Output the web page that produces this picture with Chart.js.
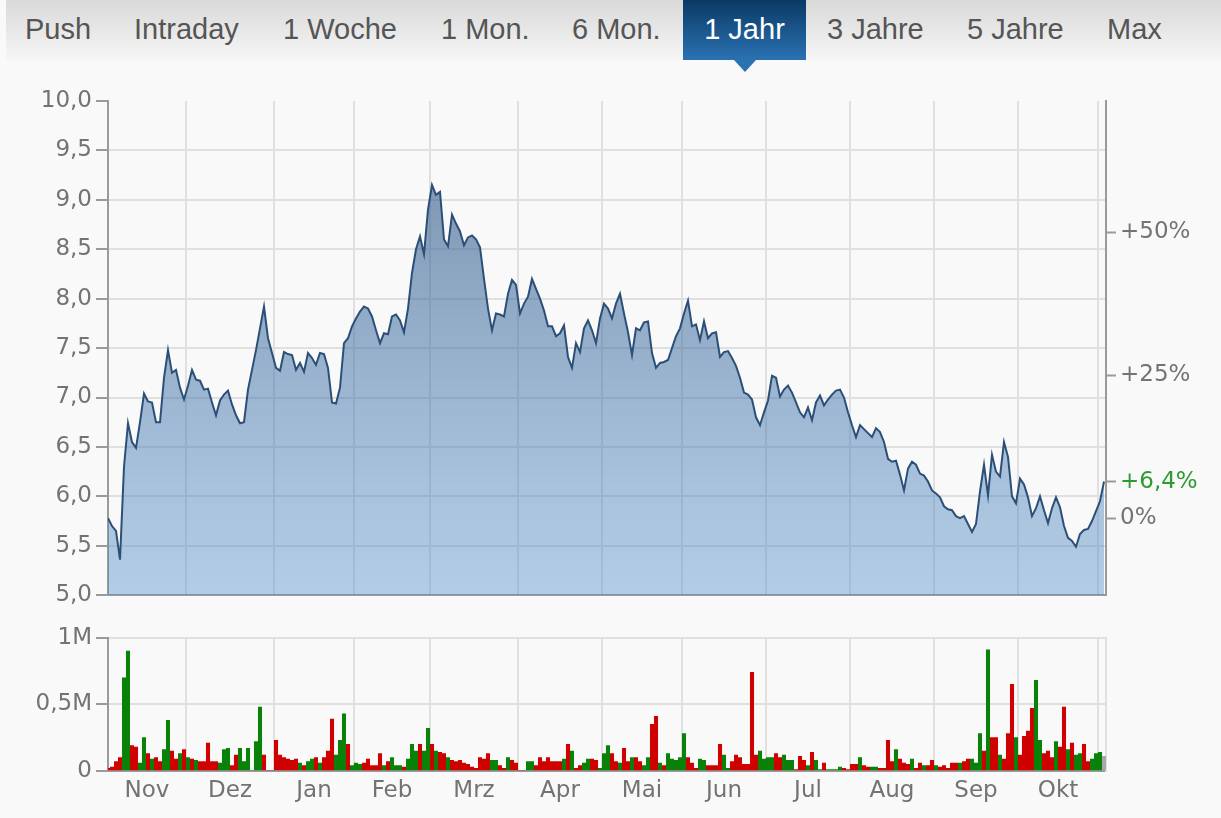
<!DOCTYPE html>
<html lang="de">
<head>
<meta charset="utf-8">
<title>1 Jahr</title>
<script src="https://cdn.jsdelivr.net/npm/chart.js@4.4.1/dist/chart.umd.min.js"></script>
<style>
  html, body { margin: 0; padding: 0; background: #f9f9f9; }
  body { width: 1221px; height: 818px; position: relative; overflow: hidden;
         font-family: "Liberation Sans", Arial, sans-serif; }
  #tabs { position: absolute; left: 6px; top: 0; width: 1215px; height: 60px;
          background: linear-gradient(#d9d9d9, #f6f6f6); }
  .tab { position: absolute; top: 0; height: 60px; line-height: 58px; font-size: 29px;
         color: #555; white-space: nowrap; }
  .tab.active { background: linear-gradient(#0b3965, #2b72b2); color: #fff; text-align: center; }
  .tab.active:after { content: ''; position: absolute; left: 50%; top: 60px; margin-left: -11px;
         border-left: 11px solid transparent; border-right: 11px solid transparent;
         border-top: 12px solid #2b72b2; }
  canvas { position: absolute; left: 0; }
</style>
</head>
<body>
<div id="tabs"></div>
<div class="tab" style="left:25px">Push</div>
<div class="tab" style="left:134px">Intraday</div>
<div class="tab" style="left:283px">1 Woche</div>
<div class="tab" style="left:441px">1 Mon.</div>
<div class="tab" style="left:572px">6 Mon.</div>
<div class="tab active" style="left:683px;width:123px">1 Jahr</div>
<div class="tab" style="left:827px">3 Jahre</div>
<div class="tab" style="left:967px">5 Jahre</div>
<div class="tab" style="left:1107px">Max</div>

<canvas id="priceChart" width="1221" height="532" style="top:81px"></canvas>
<canvas id="volumeChart" width="1221" height="198" style="top:620px"></canvas>

<script>
// ============================================================================
// DATA (one value per trading day, index 0 = first day of the year window)
// ============================================================================

const priceValues = [
  5.78, 5.70, 5.65, 5.36, 6.30, 6.74, 6.55, 6.49, 6.75, 7.04,
  6.96, 6.95, 6.75, 6.75, 7.20, 7.48, 7.25, 7.28, 7.10, 6.98,
  7.12, 7.28, 7.18, 7.17, 7.08, 7.09, 6.95, 6.82, 6.97, 7.03,
  7.07, 6.93, 6.82, 6.74, 6.75, 7.08, 7.28, 7.48, 7.70, 7.92,
  7.60, 7.45, 7.30, 7.27, 7.46, 7.44, 7.43, 7.28, 7.35, 7.26,
  7.45, 7.40, 7.33, 7.45, 7.44, 7.30, 6.95, 6.94, 7.10, 7.55,
  7.60, 7.72, 7.80, 7.87, 7.92, 7.90, 7.82, 7.68, 7.55, 7.65,
  7.64, 7.82, 7.84, 7.78, 7.66, 7.90, 8.26, 8.50, 8.63, 8.45,
  8.90, 9.15, 9.05, 9.08, 8.60, 8.53, 8.85, 8.76, 8.68, 8.54,
  8.62, 8.64, 8.60, 8.52, 8.20, 7.90, 7.68, 7.85, 7.84, 7.82,
  8.05, 8.19, 8.14, 7.85, 7.95, 8.02, 8.20, 8.10, 8.00, 7.88,
  7.72, 7.72, 7.62, 7.65, 7.73, 7.41, 7.30, 7.55, 7.46, 7.70,
  7.78, 7.68, 7.55, 7.80, 7.95, 7.90, 7.80, 7.95, 8.05, 7.85,
  7.66, 7.43, 7.70, 7.68, 7.76, 7.77, 7.45, 7.30, 7.35, 7.36,
  7.38, 7.50, 7.62, 7.70, 7.85, 7.98, 7.72, 7.74, 7.58, 7.77,
  7.60, 7.65, 7.66, 7.41, 7.46, 7.47, 7.40, 7.32, 7.20, 7.05,
  7.03, 6.98, 6.80, 6.72, 6.85, 6.97, 7.22, 7.20, 7.01, 7.08,
  7.12, 7.05, 6.95, 6.85, 6.80, 6.90, 6.77, 6.95, 7.02, 6.92,
  6.98, 7.03, 7.07, 7.08, 7.00, 6.85, 6.72, 6.60, 6.72, 6.68,
  6.64, 6.60, 6.69, 6.65, 6.55, 6.38, 6.35, 6.36, 6.22, 6.06,
  6.28, 6.35, 6.32, 6.23, 6.21, 6.15, 6.06, 6.03, 5.99, 5.90,
  5.87, 5.86, 5.80, 5.78, 5.80, 5.72, 5.64, 5.72, 6.05, 6.32,
  6.01, 6.42, 6.25, 6.20, 6.55, 6.40, 6.00, 5.93, 6.18, 6.12,
  5.99, 5.80, 5.88, 6.00, 5.86, 5.73, 5.88, 5.99, 5.89, 5.70,
  5.58, 5.55, 5.49, 5.62, 5.66, 5.67, 5.75, 5.85, 5.95, 6.15
];

// Volume in millions of shares
const volumeValues = [
  0.02, 0.03, 0.07, 0.10, 0.70, 0.90, 0.19, 0.18, 0.06, 0.25,
  0.13, 0.09, 0.10, 0.07, 0.16, 0.38, 0.15, 0.09, 0.13, 0.16,
  0.10, 0.09, 0.08, 0.07, 0.07, 0.21, 0.07, 0.07, 0.06, 0.16,
  0.17, 0.04, 0.12, 0.17, 0.07, 0.17, 0.00, 0.22, 0.48, 0.12,
  0.00, 0.00, 0.23, 0.12, 0.10, 0.09, 0.08, 0.09, 0.06, 0.04,
  0.07, 0.09, 0.10, 0.06, 0.10, 0.15, 0.39, 0.12, 0.23, 0.43,
  0.20, 0.04, 0.06, 0.05, 0.06, 0.09, 0.04, 0.04, 0.13, 0.04,
  0.07, 0.10, 0.04, 0.04, 0.03, 0.09, 0.20, 0.15, 0.20, 0.15,
  0.32, 0.20, 0.15, 0.14, 0.13, 0.10, 0.08, 0.07, 0.08, 0.06,
  0.05, 0.03, 0.02, 0.10, 0.09, 0.13, 0.08, 0.08, 0.04, 0.02,
  0.10, 0.08, 0.06, 0.00, 0.00, 0.07, 0.07, 0.04, 0.10, 0.07,
  0.10, 0.07, 0.07, 0.07, 0.09, 0.20, 0.15, 0.02, 0.04, 0.06,
  0.09, 0.09, 0.08, 0.02, 0.13, 0.19, 0.13, 0.07, 0.06, 0.17,
  0.07, 0.10, 0.10, 0.07, 0.04, 0.10, 0.35, 0.41, 0.06, 0.04,
  0.13, 0.09, 0.08, 0.10, 0.28, 0.10, 0.06, 0.02, 0.09, 0.08,
  0.04, 0.04, 0.04, 0.20, 0.12, 0.02, 0.07, 0.12, 0.10, 0.05,
  0.05, 0.74, 0.12, 0.15, 0.09, 0.10, 0.10, 0.13, 0.10, 0.12,
  0.08, 0.08, 0.01, 0.11, 0.08, 0.04, 0.14, 0.08, 0.01, 0.06,
  0.01, 0.01, 0.01, 0.03, 0.02, 0.01, 0.05, 0.05, 0.10, 0.04,
  0.03, 0.03, 0.03, 0.02, 0.02, 0.23, 0.07, 0.16, 0.09, 0.06,
  0.05, 0.09, 0.02, 0.06, 0.04, 0.04, 0.08, 0.04, 0.03, 0.04,
  0.02, 0.06, 0.06, 0.06, 0.07, 0.09, 0.09, 0.06, 0.28, 0.15,
  0.91, 0.25, 0.25, 0.12, 0.09, 0.28, 0.65, 0.25, 0.12, 0.26,
  0.30, 0.47, 0.68, 0.23, 0.13, 0.15, 0.10, 0.22, 0.18, 0.48,
  0.16, 0.21, 0.12, 0.13, 0.20, 0.07, 0.09, 0.13, 0.14, 0.11
];

// 1 = up day (green), 0 = down day (red), 2 = unchanged (grey)
const volumeDirection = [
  0, 0, 0, 0, 1, 1, 0, 0, 1, 1,
  0, 1, 0, 0, 1, 1, 0, 0, 1, 0,
  1, 0, 1, 0, 0, 0, 0, 0, 1, 1,
  1, 0, 0, 1, 1, 1, 1, 1, 1, 0,
  0, 0, 0, 0, 0, 0, 0, 0, 1, 0,
  1, 1, 0, 1, 0, 0, 0, 1, 1, 1,
  0, 1, 1, 1, 0, 0, 0, 0, 0, 1,
  0, 1, 1, 1, 0, 1, 1, 1, 0, 1,
  1, 0, 1, 0, 0, 1, 0, 0, 0, 0,
  0, 0, 0, 0, 0, 0, 1, 1, 0, 0,
  1, 0, 0, 0, 0, 1, 1, 0, 0, 0,
  0, 0, 0, 0, 1, 0, 1, 0, 0, 1,
  1, 0, 0, 1, 1, 1, 0, 0, 1, 0,
  0, 1, 0, 0, 1, 1, 0, 0, 1, 0,
  1, 1, 1, 1, 1, 0, 0, 0, 1, 1,
  0, 0, 0, 0, 1, 1, 0, 0, 0, 0,
  0, 0, 0, 1, 1, 1, 1, 0, 0, 1,
  1, 1, 0, 0, 0, 1, 0, 1, 1, 0,
  1, 1, 1, 1, 0, 0, 0, 0, 1, 0,
  0, 1, 1, 0, 0, 0, 0, 1, 0, 0,
  0, 1, 0, 0, 1, 0, 0, 1, 0, 0,
  0, 0, 0, 1, 0, 0, 1, 1, 1, 0,
  1, 0, 0, 1, 0, 0, 0, 1, 0, 0,
  0, 0, 1, 1, 0, 0, 0, 1, 0, 0,
  1, 0, 1, 1, 0, 0, 1, 1, 1, 2
];

const monthLabels = ['Nov', 'Dez', 'Jan', 'Feb', 'Mrz', 'Apr', 'Mai', 'Jun', 'Jul', 'Aug', 'Sep', 'Okt'];
// Position (in trading days) of the gridline that closes each month
const monthBounds = [19.5, 41.5, 61.5, 80.5, 102.5, 123.5, 143.5, 164.5, 185.5, 206.5, 227.5, 247.5];

const volumeTickLabels = ['0', '0,5M', '1M'];

// ============================================================================
// STYLE
// ============================================================================

const FONT = { family: '"DejaVu Sans", Verdana, sans-serif', size: 23 };
const TEXT = '#737373';
const AXIS = '#9a9a9a';
const GRID = '#e0e0e0';
const GREEN = '#2f9a2f';
const TRANSPARENT = 'rgba(0,0,0,0)';
const X_MAX = 249.5;   // right edge of the plot, in trading days

// Month ticks: gridlines at the bounds, labels centred in between
const monthMids = monthBounds.map((b, k) => ((k === 0 ? 0 : monthBounds[k - 1]) + b) / 2);
const boundSet = new Set(monthBounds);
const midLabel = new Map(monthMids.map((m, k) => [m, monthLabels[k]]));
const monthTickValues = monthBounds.concat(monthMids).sort((a, b) => a - b);

// Percent ticks on the right axis, relative to the first close
const basePrice = priceValues[0];
const lastPct = Math.round((priceValues[priceValues.length - 1] / basePrice - 1) * 1000) / 10;
const pctValues = [0, lastPct, 25, 50];

function pctLabel(p) {
  if (p === 0) return '0%';
  return '+' + String(p).replace('.', ',') + '%';
}

/**
 * Shared x axis: trading-day index, month gridlines
 * (offset off, otherwise the bar chart shifts the grid by half a tick)
 */
function monthAxis(showLabels, height) {
  return {
    type: 'linear',
    min: 0,
    max: X_MAX,
    offset: false,
    afterBuildTicks: scale => {
      scale.ticks = monthTickValues.map(v => ({ value: v }));
    },
    afterFit: scale => { scale.height = height; },
    grid: {
      offset: false,
      color: ctx => (ctx.tick && boundSet.has(ctx.tick.value)) ? GRID : TRANSPARENT,
      lineWidth: 2,
      drawTicks: false
    },
    border: { color: AXIS, width: 2 },
    ticks: {
      display: showLabels,
      autoSkip: false,
      maxRotation: 0,
      padding: 6,
      color: TEXT,
      font: FONT,
      callback: value => midLabel.get(value) || ''
    }
  };
}

function baseOptions() {
  return {
    responsive: false,
    devicePixelRatio: 1,
    animation: false,
    events: [],
    plugins: {
      legend: { display: false },
      tooltip: { enabled: false }
    }
  };
}

// ============================================================================
// PRICE CHART
// ============================================================================

const priceOptions = baseOptions();
priceOptions.layout = { padding: { top: 20, bottom: 0, left: 0, right: 0 } };
priceOptions.scales = {
  x: monthAxis(false, 10),
  y: {
    position: 'left',
    min: 5,
    max: 10,
    afterFit: scale => { scale.width = 108; },
    ticks: {
      stepSize: 0.5,
      autoSkip: false,
      padding: 4,
      color: TEXT,
      font: FONT,
      callback: value => value.toFixed(1).replace('.', ',')
    },
    grid: {
      color: ctx => (ctx.tick && ctx.tick.value >= 10) ? TRANSPARENT : GRID,
      lineWidth: 2,
      tickLength: 12,
      tickColor: AXIS,
      tickWidth: 2
    },
    border: { color: AXIS, width: 2 }
  },
  pct: {
    position: 'right',
    min: 5,
    max: 10,
    afterBuildTicks: scale => {
      scale.ticks = pctValues.map(p => ({ value: basePrice * (1 + p / 100) }));
    },
    afterFit: scale => { scale.width = 115; },
    ticks: {
      autoSkip: false,
      padding: 4,
      font: FONT,
      color: ctx => (pctValues[ctx.index] === lastPct ? GREEN : TEXT),
      callback: (value, index) => pctLabel(pctValues[index])
    },
    grid: {
      drawOnChartArea: false,
      tickLength: 10,
      tickColor: AXIS,
      tickWidth: 2
    },
    border: { color: AXIS, width: 2 }
  }
};

new Chart(document.getElementById('priceChart').getContext('2d'), {
  type: 'line',
  data: {
    datasets: [{
      label: 'Kurs',
      data: priceValues.map((v, i) => ({ x: i, y: v })),
      borderColor: '#2b4f77',
      borderWidth: 2,
      pointRadius: 0,
      tension: 0,
      fill: 'start',
      backgroundColor: ctx => {
        const area = ctx.chart.chartArea;
        if (!area) return 'rgba(60,110,170,0.5)';
        const g = ctx.chart.ctx.createLinearGradient(0, area.top, 0, area.bottom);
        g.addColorStop(0, 'rgba(34,71,117,0.62)');
        g.addColorStop(1, 'rgba(77,139,202,0.40)');
        return g;
      }
    }]
  },
  options: priceOptions
});

// ============================================================================
// VOLUME CHART
// ============================================================================

const volumeColors = volumeDirection.map(d => (d === 1 ? '#0a820a' : d === 0 ? '#cf0000' : '#a8a8a8'));

const volumeOptions = baseOptions();
volumeOptions.layout = { padding: { top: 13, bottom: 0, left: 0, right: 0 } };
volumeOptions.scales = {
  x: monthAxis(true, 47),
  y: {
    position: 'left',
    min: 0,
    max: 1,
    afterFit: scale => { scale.width = 108; },
    ticks: {
      stepSize: 0.5,
      autoSkip: false,
      padding: 4,
      color: TEXT,
      font: FONT,
      callback: (value, index) => volumeTickLabels[index]
    },
    grid: {
      color: GRID,
      lineWidth: 2,
      tickLength: 12,
      tickColor: AXIS,
      tickWidth: 2
    },
    border: { color: AXIS, width: 2 }
  },
  edge: {
    position: 'right',
    min: 0,
    max: 1,
    afterFit: scale => { scale.width = 115; },
    ticks: { display: false },
    grid: { drawOnChartArea: false, drawTicks: false },
    border: { color: GRID, width: 2 }
  }
};

new Chart(document.getElementById('volumeChart').getContext('2d'), {
  type: 'bar',
  data: {
    datasets: [{
      label: 'Volumen',
      data: volumeValues.map((v, i) => ({ x: i, y: v })),
      backgroundColor: volumeColors,
      barThickness: 3.4,
      borderWidth: 0
    }]
  },
  options: volumeOptions
});
</script>
</body>
</html>
